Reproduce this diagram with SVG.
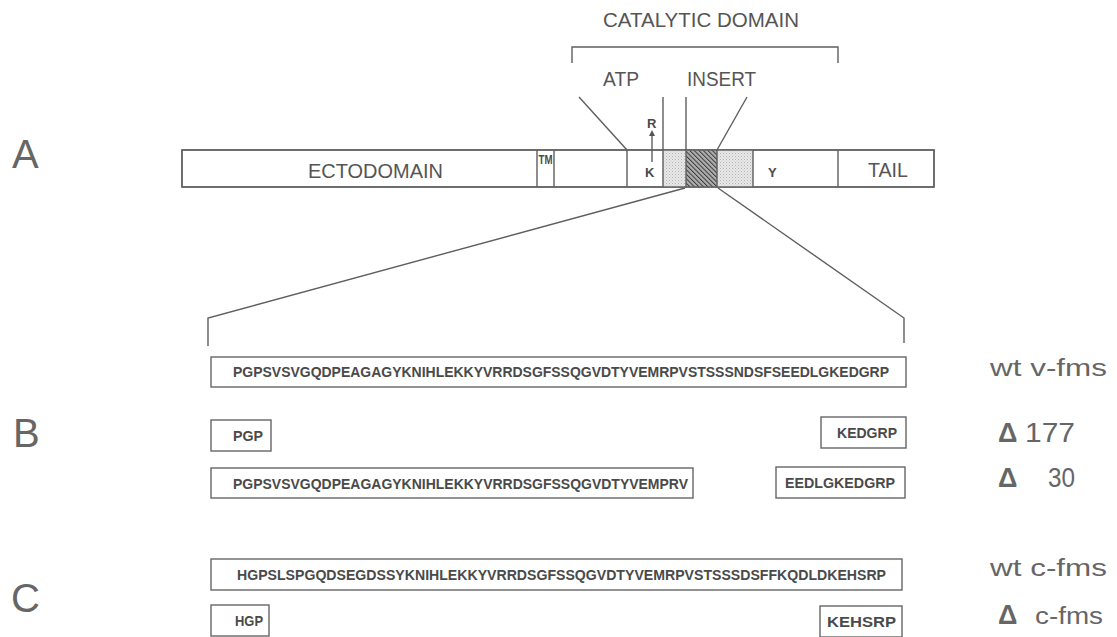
<svg xmlns="http://www.w3.org/2000/svg" width="1117" height="637" viewBox="0 0 1117 637">
<style>
.ln{stroke:#5e5e5e;stroke-width:1.4;fill:none}
.bx{stroke:#666;stroke-width:1.4;fill:#fff}
.lab{font-family:"Liberation Sans",Arial,sans-serif;fill:#666}
.big{font-family:"Liberation Sans",Arial,sans-serif;fill:#666;font-size:40px}
.seq{font-family:"Liberation Sans",Arial,sans-serif;fill:#4a4a4a;font-size:14.5px;font-weight:bold}
.dom{font-family:"Liberation Sans",Arial,sans-serif;fill:#555;font-size:20px}
.sm{font-family:"Liberation Sans",Arial,sans-serif;fill:#4a4a4a;font-size:13px;font-weight:bold}
</style>
<defs>
<pattern id="stip" width="3" height="3" patternUnits="userSpaceOnUse">
<rect width="3" height="3" fill="#e8e8e8"/>
<rect x="0" y="0" width="1" height="1" fill="#b4b4b4"/>
<rect x="1.5" y="1.5" width="1" height="1" fill="#c4c4c4"/>
</pattern>
<pattern id="hatch" width="3.2" height="3.2" patternUnits="userSpaceOnUse" patternTransform="rotate(-45)">
<rect width="3.2" height="3.2" fill="#b0b0b0"/>
<line x1="0" y1="0" x2="0" y2="3.2" stroke="#3a3a3a" stroke-width="2"/>
</pattern>
<marker id="arr" markerWidth="6" markerHeight="6" refX="3" refY="3" orient="auto" markerUnits="userSpaceOnUse">
<path d="M0,0 L6,3 L0,6 z" fill="#555"/>
</marker>
</defs>
<rect width="1117" height="637" fill="#fff"/>

<g id="panel-labels">
<text class="big" x="12" y="168">A</text>
<text class="big" x="13" y="447">B</text>
<text class="big" x="11" y="612">C</text>
</g>

<g id="catalytic">
<text class="dom" x="603" y="27" textLength="196" lengthAdjust="spacingAndGlyphs">CATALYTIC DOMAIN</text>
<path class="ln" d="M572,63 V47 H838 V63"/>
<text class="dom" x="603" y="86" font-size="19" textLength="36" lengthAdjust="spacingAndGlyphs">ATP</text>
<text class="dom" x="687" y="86" font-size="19" textLength="69" lengthAdjust="spacingAndGlyphs">INSERT</text>
</g>

<g id="receptor-bar">
<rect class="bx" x="182" y="150" width="752" height="37"/>
<rect x="663" y="150" width="23" height="37" fill="url(#stip)"/>
<rect x="686" y="150" width="31" height="37" fill="url(#hatch)"/>
<rect x="717" y="150" width="36" height="37" fill="url(#stip)"/>
<path class="ln" d="M537,150 V187 M554,150 V187 M627,150 V187 M663,150 V187 M686,150 V187 M717,150 V187 M753,150 V187 M838,150 V187"/>
<rect class="ln" x="182" y="150" width="752" height="37"/>
<text class="dom" x="308" y="178" textLength="135" lengthAdjust="spacingAndGlyphs">ECTODOMAIN</text>
<text class="sm" x="538.5" y="164" font-size="10" textLength="14" lengthAdjust="spacingAndGlyphs">TM</text>
<text class="sm" x="645" y="177">K</text>
<text class="sm" x="768" y="177">Y</text>
<text class="dom" x="868" y="177" textLength="40" lengthAdjust="spacingAndGlyphs">TAIL</text>
<text class="sm" x="647" y="128" font-size="11">R</text>
</g>

<g id="connectors">
<line class="ln" x1="579" y1="97" x2="627" y2="150"/>
<line class="ln" x1="663" y1="97" x2="663" y2="150"/>
<line class="ln" x1="686" y1="97" x2="686" y2="150"/>
<line class="ln" x1="747" y1="97" x2="717" y2="150"/>
<line class="ln" x1="652" y1="162" x2="652" y2="133" marker-end="url(#arr)"/>
<path class="ln" d="M685,188 L208,318 V346"/>
<path class="ln" d="M718,188 L904,318 V343"/>
</g>

<g id="wt-vfms">
<rect class="bx" x="211" y="357" width="695" height="30"/>
<text class="seq" x="233" y="377" textLength="656" lengthAdjust="spacingAndGlyphs">PGPSVSVGQDPEAGAGYKNIHLEKKYVRRDSGFSSQGVDTYVEMRPVSTSSSNDSFSEEDLGKEDGRP</text>
<text class="lab" x="990" y="376" font-size="23" textLength="117" lengthAdjust="spacingAndGlyphs">wt  v-fms</text>
</g>

<g id="d177">
<rect class="bx" x="211" y="420" width="60" height="31"/>
<text class="seq" x="233" y="441" textLength="30" lengthAdjust="spacingAndGlyphs">PGP</text>
<rect class="bx" x="821" y="417" width="85" height="31"/>
<text class="seq" x="837" y="438" textLength="60" lengthAdjust="spacingAndGlyphs">KEDGRP</text>
<text class="lab" x="998" y="442" font-size="27" font-weight="bold">Δ</text>
<text class="lab" x="1025" y="442" font-size="28" textLength="50" lengthAdjust="spacingAndGlyphs">177</text>
</g>

<g id="d30">
<rect class="bx" x="211" y="468" width="482" height="30"/>
<text class="seq" x="233" y="489" textLength="455" lengthAdjust="spacingAndGlyphs">PGPSVSVGQDPEAGAGYKNIHLEKKYVRRDSGFSSQGVDTYVEMPRV</text>
<rect class="bx" x="776" y="467" width="129" height="31"/>
<text class="seq" x="785" y="488" textLength="110" lengthAdjust="spacingAndGlyphs">EEDLGKEDGRP</text>
<text class="lab" x="998" y="487" font-size="27" font-weight="bold">Δ</text>
<text class="lab" x="1048" y="487" font-size="28" textLength="27" lengthAdjust="spacingAndGlyphs">30</text>
</g>

<g id="wt-cfms">
<rect class="bx" x="211" y="559" width="691" height="31"/>
<text class="seq" x="237" y="580" textLength="649" lengthAdjust="spacingAndGlyphs">HGPSLSPGQDSEGDSSYKNIHLEKKYVRRDSGFSSQGVDTYVEMRPVSTSSSDSFFKQDLDKEHSRP</text>
<text class="lab" x="990" y="576" font-size="23" textLength="117" lengthAdjust="spacingAndGlyphs">wt  c-fms</text>
</g>

<g id="d-cfms">
<rect class="bx" x="211" y="605" width="58" height="31"/>
<text class="seq" x="235" y="626" textLength="28" lengthAdjust="spacingAndGlyphs">HGP</text>
<rect class="bx" x="820" y="606" width="82" height="31"/>
<text class="seq" x="827" y="627" textLength="69" lengthAdjust="spacingAndGlyphs">KEHSRP</text>
<text class="lab" x="998" y="624" font-size="27" font-weight="bold">Δ</text>
<text class="lab" x="1035" y="624" font-size="23" textLength="68" lengthAdjust="spacingAndGlyphs">c-fms</text>
</g>
</svg>
